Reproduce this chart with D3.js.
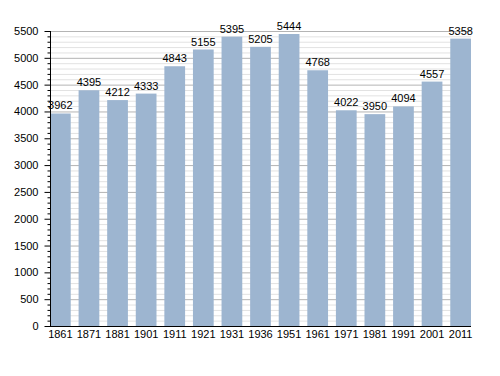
<!DOCTYPE html>
<html><head><meta charset="utf-8">
<script src="https://cdn.jsdelivr.net/npm/d3@7/dist/d3.min.js"></script>
<style>body{margin:0;background:#fff}svg{display:block}text{font-family:"Liberation Sans",Arial,sans-serif;fill:#000}</style>
</head><body>
<script>
const years = ["1861","1871","1881","1901","1911","1921","1931","1936","1951","1961","1971","1981","1991","2001","2011"];
const population = [3962,4395,4212,4333,4843,5155,5395,5205,5444,4768,4022,3950,4094,4557,5358];
const yMajorTicks = [0,500,1000,1500,2000,2500,3000,3500,4000,4500,5000,5500];

const W=500,H=376, L=50, R=471, T=31, B=326;
const svg=d3.select("body").append("svg").attr("width",W).attr("height",H);
const x=d3.scaleBand().domain(years).range([L,R]).paddingInner(0.275).paddingOuter(0);
const y=d3.scaleLinear().domain([0,5500]).range([B,T]);
const minor=d3.range(0,5501,100).filter(v=>v%500!==0);

svg.append("g").selectAll("line").data(minor).join("line")
  .attr("x1",L).attr("x2",R).attr("y1",d=>y(d)+0.5).attr("y2",d=>y(d)+0.5)
  .attr("stroke","#e2e2e2").attr("stroke-width",1);
svg.append("g").selectAll("line").data(yMajorTicks.slice(1)).join("line")
  .attr("x1",L).attr("x2",R).attr("y1",d=>y(d)+0.5).attr("y2",d=>y(d)+0.5)
  .attr("stroke","#b4b4b4").attr("stroke-width",1);

svg.append("g").selectAll("rect").data(population).join("rect")
  .attr("x",(d,i)=>x(years[i])).attr("width",x.bandwidth())
  .attr("y",d=>y(d)).attr("height",d=>B-y(d)).attr("fill","#9db5d0");

svg.append("g").selectAll("text").data(population).join("text")
  .attr("x",(d,i)=>x(years[i])+x.bandwidth()/2).attr("y",d=>y(d)-4)
  .attr("text-anchor","middle").attr("font-size","11px").text(d=>d);

const ya=svg.append("g").attr("transform",`translate(${L+0.5},0)`)
  .call(d3.axisLeft(y).tickValues(yMajorTicks).tickSize(6).tickPadding(6).tickFormat(d3.format("d")));
ya.select(".domain").remove();
ya.selectAll("text").attr("font-size","11px").attr("font-family","Liberation Sans, Arial, sans-serif").attr("fill","#000");
ya.selectAll("line").attr("stroke","#000");
const ym=svg.append("g").attr("transform",`translate(${L+0.5},0)`)
  .call(d3.axisLeft(y).tickValues(minor).tickSize(3).tickFormat(""));
ym.select(".domain").remove();
ym.selectAll("line").attr("stroke","#000");

svg.append("line").attr("x1",L+0.5).attr("x2",L+0.5).attr("y1",T).attr("y2",B+0.5).attr("stroke","#000");
svg.append("line").attr("x1",L).attr("x2",R).attr("y1",B+0.5).attr("y2",B+0.5).attr("stroke","#000");

const xa=svg.append("g").attr("transform",`translate(0,${B})`)
  .call(d3.axisBottom(x).tickSize(0).tickPadding(4));
xa.select(".domain").remove();
xa.selectAll("text").attr("font-size","11px").attr("font-family","Liberation Sans, Arial, sans-serif").attr("fill","#000");
</script>
</body></html>
